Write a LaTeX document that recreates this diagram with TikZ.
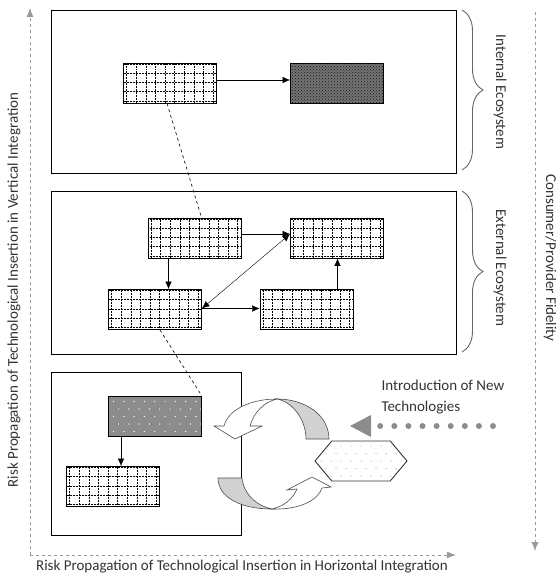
\documentclass[tikz,border=0pt]{standalone}
\usepackage{fontspec}
\setmainfont{Carlito}
\usetikzlibrary{arrows.meta, patterns, decorations.pathreplacing, shapes.symbols}
\tikzset{>={Latex[length=7.5pt,width=6.5pt]}}

\begin{document}
\begin{tikzpicture}[x=1pt, y=-1pt, font=\fontsize{15}{21}\selectfont,
	frame/.style={draw, line width=0.8pt, inner sep=0pt},
	cell/.style={draw, line width=0.9pt, fill=white, inner sep=0pt, minimum width=93pt, minimum height=40pt},
	gridbox/.style={cell, path picture={
		\foreach \k in {0,...,9}
		\draw[line width=0.5pt, densely dotted] ([xshift=3pt+\k*9.63pt]path picture bounding box.north west) -- ([xshift=3pt+\k*9.63pt]path picture bounding box.south west);
		\foreach \k in {0,...,4}
		\draw[line width=0.5pt, densely dotted] ([yshift=-1pt-\k*9.2pt]path picture bounding box.north west) -- ([yshift=-1pt-\k*9.2pt]path picture bounding box.north east);}},
	darkbox/.style={cell, fill=black!55, postaction={pattern=crosshatch dots, pattern color=black!90}},
	dotbox/.style={cell, fill=black!45, path picture={
		\foreach \i in {0,...,8}
		\foreach \j in {0,...,4}
		\fill[white] ([xshift={5pt+\i*10.3pt+mod(\j,2)*5pt}, yshift={-5pt-\j*7.5pt}]path picture bounding box.north west) circle (0.7pt);}},
	hexbox/.style={signal, signal to=east and west, signal pointer angle=100, draw=black!80, line width=0.9pt,
		fill=white, inner sep=0pt, minimum width=92pt, minimum height=40pt, path picture={
		\foreach \i in {0,...,8}
		\foreach \j in {0,...,4}
		\fill[black!50] ([xshift={6pt+\i*10pt+mod(\j,2)*5pt}, yshift={-5pt-\j*7.5pt}]path picture bounding box.north west) circle (0.5pt);}},
	axis/.style={draw=black!40, dashed, line width=0.8pt, -{Latex[length=9pt,width=7pt]}},
	label/.style={text=black!80},
	ecobrace/.style={draw=black!60, line width=0.9pt, decorate, decoration={brace, amplitude=21pt}},
	back/.style={fill=black!18, draw=black!70, line width=0.6pt},
	front/.style={fill=white, draw=black!70, line width=0.6pt}]
	\useasboundingbox (0,0) rectangle (556,578);

	% axes
	\coordinate (origin) at (30,555);
	\draw[axis] (origin) -- (30,8);
	\draw[axis] (origin) -- (456,555);
	\draw[axis] (535,12) -- (535,551);
	\node[label, rotate=90] (vlabel) at (14,290) {Risk Propagation of Technological Insertion in Vertical Integration};
	\node[label] (hlabel) at (242,567) {Risk Propagation of Technological Insertion in Horizontal Integration};
	\node[label, rotate=-90] (fidelity) at (550,258) {Consumer/Provider Fidelity};

	% ecosystems
	\node[frame, minimum width=405pt, minimum height=163pt] (internal) at (253.5,91.5) {};
	\node[frame, minimum width=405pt, minimum height=163pt] (external) at (253.5,272.5) {};
	\node[frame, minimum width=190pt, minimum height=163pt] (local) at (146,453.5) {};
	\draw[ecobrace] (462,10) -- (462,170);
	\draw[ecobrace] (462,191) -- (462,352);
	\node[label, rotate=-90] (intlabel) at (500,92) {Internal Ecosystem};
	\node[label, rotate=-90] (extlabel) at (500,268) {External Ecosystem};

	\node[gridbox] (A) at (170,83) {};
	\node[darkbox] (B) at (337,83) {};
	\node[gridbox] (C) at (194.5,238) {};
	\node[gridbox] (D) at (337,238) {};
	\node[gridbox] (E) at (155,309.5) {};
	\node[gridbox] (F) at (306.5,309.5) {};
	\node[dotbox] (G) at (155,416.5) {};
	\node[gridbox] (H) at (113,486.5) {};

	\draw[->] ([yshift=3pt]A.east) -- ([yshift=3pt]B.west);
	\draw[->] ([yshift=4pt]C.east) -- ([yshift=4pt]D.west);
	\draw[->] ([xshift=-26pt]C.south) -- ([xshift=-26pt]C.south |- E.north);
	\draw[<->] ([yshift=1pt]E.east) -- ([yshift=4pt]D.west);
	\draw[->] ([yshift=1pt]E.east) -- ([yshift=1pt]F.west);
	\draw[->] ([xshift=31pt]F.north) -- ([xshift=31pt]F.north |- D.south);
	\draw[->] ([xshift=-34pt]G.south) -- ([xshift=-34pt]G.south |- H.north);
	\draw[dashed, line width=0.6pt] ([xshift=-3pt]A.south) -- ([xshift=7pt]C.north);
	\draw[dashed, line width=0.6pt] ([xshift=5pt]E.south) -- (G.north east);

	% cycle of change
	\draw[back] (306,439) -- (329,439) .. controls (329,415) and (305,399) .. (277,399) .. controls (293,402) and (306,420) .. cycle;
	\draw[front] (277,399) .. controls (250,399) and (228,410) .. (224,426) -- (214,426) -- (235,439) -- (262,426) -- (250,426) .. controls (254,412) and (264,402) .. cycle;
	\draw[back] (218,478) -- (242,478) .. controls (244,495) and (257,506) .. (272,509) .. controls (240,509) and (218,497) .. cycle;
	\draw[front] (272,509) .. controls (300,510) and (318,500) .. (322,488) -- (331,487) -- (312,477) -- (287,490) -- (297,489) .. controls (292,500) and (284,506) .. cycle;

	\node[hexbox] (newtech) at (361,461) {};
	\coordinate (src) at (493,426);
	\coordinate (tip) at (350,426);
	\draw[black!45, line width=6pt, line cap=round, dash pattern=on 0pt off 14.1pt] (src) -- ([xshift=30pt]tip);
	\fill[black!45] (tip) -- ++(21,-11) -- ++(0,22) -- cycle;
	\node[label, align=left, anchor=north west] (intro) at (378,377) {Introduction of New\\Technologies};
\end{tikzpicture}
\end{document}
